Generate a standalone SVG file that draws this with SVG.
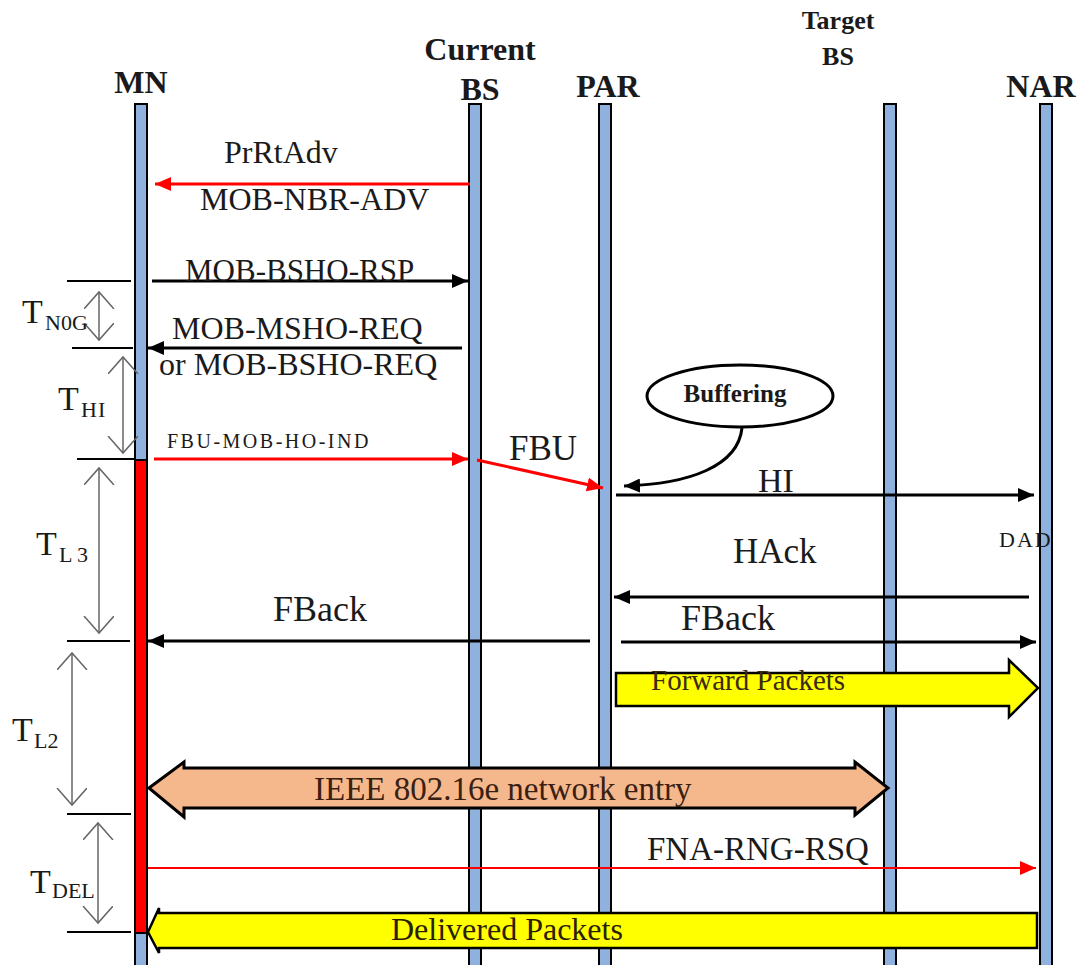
<svg xmlns="http://www.w3.org/2000/svg" width="1080" height="965" viewBox="0 0 1080 965">
<style>
text{font-family:"Liberation Serif","Times New Roman",serif;fill:#1a1a1a}
.hdr{font-weight:bold;font-size:32px;text-anchor:middle}
.msg{font-size:32px}
.bar{fill:#8fb1de;stroke:#000;stroke-width:2}
.blk{stroke:#000;stroke-width:3;fill:none}
.red{stroke:#f00;stroke-width:3;fill:none}
.tick{stroke:#000;stroke-width:2}
.tm{stroke:#666;stroke-width:1.5;fill:none}
.T{font-size:34px}
.sub{font-size:22px}
</style>
<defs>
<marker id="ah" markerUnits="userSpaceOnUse" markerWidth="18" markerHeight="14" refX="16" refY="7" orient="auto"><path d="M0,0 L16,7 L0,14 z" fill="#000"/></marker>
<marker id="ahr" markerUnits="userSpaceOnUse" markerWidth="18" markerHeight="14" refX="16" refY="7" orient="auto"><path d="M0,0 L16,7 L0,14 z" fill="#f00"/></marker>
<marker id="v" markerUnits="userSpaceOnUse" markerWidth="20" markerHeight="32" refX="17" refY="15" orient="auto-start-reverse"><path d="M0,0 L17,15 L0,30" fill="none" stroke="#666" stroke-width="1.5"/></marker>
</defs>
<rect width="1080" height="965" fill="#fff"/>

<g id="lifelines">
<g id="MN"><rect class="bar" x="135" y="104" width="12" height="870"/><rect x="135" y="460" width="12" height="473" fill="#f00" stroke="#000" stroke-width="2"/><text class="hdr" x="141" y="93">MN</text></g>
<g id="CurrentBS"><rect class="bar" x="469" y="104" width="12" height="870"/><text class="hdr" x="480" y="60">Current</text><text class="hdr" x="480" y="100">BS</text></g>
<g id="PAR"><rect class="bar" x="599" y="104" width="12" height="870"/><text class="hdr" x="608" y="97">PAR</text></g>
<g id="TargetBS"><rect class="bar" x="884" y="104" width="12" height="870"/><text class="hdr" x="838" y="29" style="font-size:26px">Target</text><text class="hdr" x="838" y="65" style="font-size:26px">BS</text></g>
<g id="NAR"><rect class="bar" x="1040" y="104" width="12" height="870"/><text class="hdr" x="1041" y="97">NAR</text></g>
</g>

<g id="buffering">
<ellipse cx="740" cy="396" rx="93" ry="31" fill="#fff" stroke="#000" stroke-width="3"/>
<text x="735" y="402" style="font-weight:bold;font-size:25px;text-anchor:middle">Buffering</text>
</g>

<g id="connectors">
<line class="red" x1="470" y1="184" x2="155" y2="184" marker-end="url(#ahr)"/>
<line class="blk" x1="152" y1="281" x2="468" y2="281" marker-end="url(#ah)"/>
<line class="blk" x1="462" y1="348" x2="148" y2="348" marker-end="url(#ah)"/>
<line class="red" x1="154" y1="459" x2="468" y2="459" marker-end="url(#ahr)"/>
<line class="red" x1="477" y1="460" x2="603" y2="488" marker-end="url(#ahr)"/>
<path class="blk" d="M742,428 C738,466 690,484 624,486" marker-end="url(#ah)"/>
<line class="blk" x1="616" y1="495" x2="1034" y2="495" marker-end="url(#ah)"/>
<line class="blk" x1="1029" y1="597" x2="614" y2="597" marker-end="url(#ah)"/>
<line class="blk" x1="590" y1="641" x2="148" y2="641" marker-end="url(#ah)"/>
<line class="blk" x1="621" y1="642" x2="1036" y2="642" marker-end="url(#ah)"/>
<polygon points="616,673 1009,673 1009,660 1038,688 1009,717 1009,706 616,706" fill="#ff0" stroke="#000" stroke-width="2.5"/>
<polygon points="149,788 184,762 184,768 855,768 855,762 888,788 855,815 855,808 184,808 184,817" fill="#f5b78c" stroke="#000" stroke-width="3"/>
<line x1="148" y1="868" x2="1036" y2="868" stroke="#f00" stroke-width="2" marker-end="url(#ahr)"/>
<polygon points="148,932 159,908 159,913 1037,913 1037,948 159,948 159,953" fill="#ff0" stroke="#000" stroke-width="2.5"/>
</g>

<g id="timing">
<line class="tick" x1="67" y1="281" x2="131" y2="281"/>
<line class="tick" x1="72" y1="348" x2="133" y2="348"/>
<line class="tick" x1="77" y1="459" x2="135" y2="459"/>
<line class="tick" x1="67" y1="641" x2="130" y2="641"/>
<line class="tick" x1="67" y1="814" x2="131" y2="814"/>
<line class="tick" x1="67" y1="932" x2="131" y2="932"/>
<line class="tm" x1="99" y1="292" x2="99" y2="340" marker-start="url(#v)" marker-end="url(#v)"/>
<line class="tm" x1="123" y1="357" x2="123" y2="453" marker-start="url(#v)" marker-end="url(#v)"/>
<line class="tm" x1="99" y1="468" x2="99" y2="633" marker-start="url(#v)" marker-end="url(#v)"/>
<line class="tm" x1="72" y1="653" x2="72" y2="805" marker-start="url(#v)" marker-end="url(#v)"/>
<line class="tm" x1="98" y1="823" x2="98" y2="923" marker-start="url(#v)" marker-end="url(#v)"/>
<text class="T" x="22" y="323">T</text><text class="sub" x="45" y="330">N0G</text>
<text class="T" x="58" y="410">T</text><text class="sub" x="81" y="417" style="letter-spacing:1px">HI</text>
<text class="T" x="36" y="555">T</text><text class="sub" x="59" y="562">L 3</text>
<text class="T" x="12" y="741">T</text><text class="sub" x="34" y="748">L2</text>
<text class="T" x="30" y="893">T</text><text class="sub" x="52" y="898">DEL</text>
</g>

<g id="labels">
<text class="msg" x="224" y="163">PrRtAdv</text>
<text class="msg" x="200" y="210">MOB-NBR-ADV</text>
<text class="msg" x="185" y="281" style="font-size:31px">MOB-BSHO-RSP</text>
<text class="msg" x="172" y="339">MOB-MSHO-REQ</text>
<text class="msg" x="159" y="375">or MOB-BSHO-REQ</text>
<text x="167" y="448" style="font-size:20px;letter-spacing:2.5px">FBU-MOB-HO-IND</text>
<text x="509" y="460" style="font-size:35px">FBU</text>
<text x="758" y="492" style="font-size:34px">HI</text>
<text x="999" y="547" style="font-size:22px;letter-spacing:2px">DAD</text>
<text x="733" y="563" style="font-size:35px">HAck</text>
<text x="273" y="621" style="font-size:36px">FBack</text>
<text x="681" y="630" style="font-size:36px">FBack</text>
<text x="651" y="690" style="font-size:29px;fill:#3a2a10">Forward Packets</text>
<text x="314" y="800" style="font-size:33px;fill:#3a2010">IEEE 802.16e network entry</text>
<text x="647" y="860" style="font-size:33px">FNA-RNG-RSQ</text>
<text x="391" y="940" style="font-size:32px;fill:#2a2000">Delivered Packets</text>
</g>
</svg>
